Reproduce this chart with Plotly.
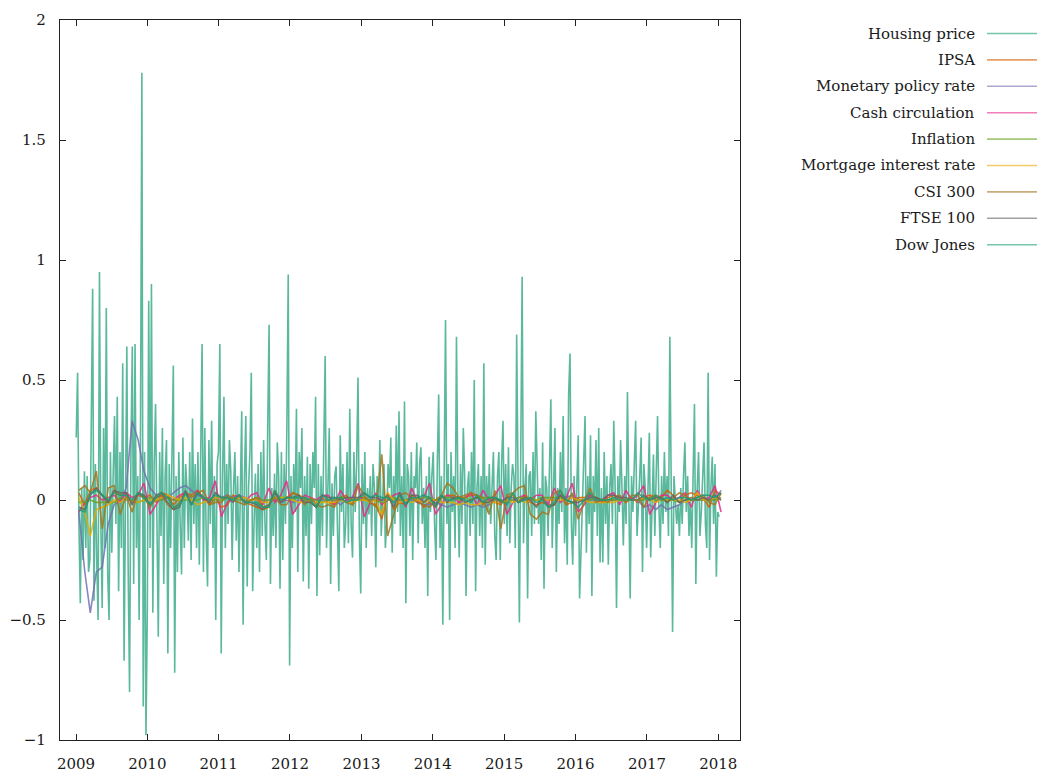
import pandas as pd
import plotly.graph_objects as go

# ---------------- data ----------------
series_names = ["Housing price", "IPSA", "Monetary policy rate", "Cash circulation",
                "Inflation", "Mortgage interest rate", "CSI 300", "FTSE 100", "Dow Jones"]

# weekly series with the large swings
housing_2009 = [0.26, 0.53, -0.10, -0.43, 0.05, -0.25, 0.12, -0.20, 0.10, -0.30, -0.25, 0.25, 0.88, -0.42, 0.15, -0.25, -0.50, 0.95, -0.10, -0.45, 0.30, -0.20, 0.80, -0.30, -0.50, 0.20, -0.22, 0.10, 0.35, -0.10, 0.43, -0.38, 0.20, -0.20, 0.57, -0.67, 0.20, 0.64, -0.30, -0.80, 0.20, 0.64, -0.35, 0.65, -0.20, 0.10, -0.50, 0.30, 1.78, -0.86, 0.20, -0.98]
housing_2010 = [-0.45, 0.83, -0.20, 0.90, -0.47, 0.15, 0.40, -0.25, -0.57, 0.20, -0.15, 0.30, -0.35, 0.10, 0.25, -0.64, 0.15, -0.20, 0.30, 0.56, -0.72, 0.10, -0.30, 0.20, -0.10, -0.31, 0.26, -0.20, 0.15, 0.05, -0.17, 0.20, -0.25, 0.34, -0.10, 0.15, -0.20, 0.20, -0.27, 0.10, 0.65, -0.30, 0.30, -0.15, -0.36, 0.25, -0.10, 0.33, -0.20, 0.10, -0.50, 0.15]
housing_2011 = [0.20, 0.65, -0.64, 0.10, 0.43, -0.20, 0.15, -0.10, 0.25, 0.12, -0.25, 0.05, 0.20, -0.17, 0.10, -0.30, 0.15, 0.37, -0.52, 0.10, 0.35, -0.36, 0.05, 0.20, 0.53, -0.38, -0.10, 0.11, -0.20, 0.15, -0.30, 0.20, -0.15, 0.25, -0.10, -0.25, 0.30, 0.73, -0.35, 0.05, -0.15, 0.11, -0.20, 0.24, 0.10, -0.37, 0.20, -0.25, 0.15, -0.10, 0.30, 0.94]
housing_2012 = [-0.69, 0.10, -0.20, 0.15, -0.05, 0.38, -0.30, 0.20, 0.05, 0.30, -0.34, 0.10, -0.15, 0.18, -0.37, 0.15, -0.10, 0.20, 0.05, 0.43, -0.40, 0.15, -0.23, 0.10, -0.15, 0.20, 0.60, -0.20, 0.05, 0.30, -0.35, 0.07, -0.15, 0.10, 0.14, -0.10, -0.38, 0.27, -0.05, 0.15, -0.20, -0.10, 0.20, -0.18, 0.38, -0.10, -0.24, 0.20, -0.05, 0.15, 0.51, -0.15]
housing_2013 = [-0.39, 0.15, -0.10, 0.20, -0.20, 0.05, -0.06, 0.10, -0.15, 0.15, 0.05, -0.28, 0.10, -0.05, 0.25, -0.15, 0.05, 0.15, -0.20, -0.10, 0.15, 0.05, 0.26, -0.22, 0.10, -0.10, 0.31, -0.05, 0.37, -0.15, 0.10, -0.20, 0.41, -0.43, 0.15, 0.10, -0.15, 0.20, -0.25, 0.10, 0.05, 0.24, -0.18, 0.15, 0.22, -0.10, 0.05, -0.20, 0.10, -0.40, 0.18, -0.05]
housing_2014 = [0.10, 0.20, -0.10, -0.25, 0.15, 0.44, -0.20, 0.10, -0.52, 0.20, 0.75, -0.10, 0.15, -0.50, 0.20, -0.05, 0.10, -0.20, 0.68, 0.05, -0.24, 0.15, -0.10, 0.30, 0.10, -0.40, 0.05, 0.12, -0.15, 0.20, -0.10, 0.50, -0.38, 0.05, 0.15, -0.15, 0.10, -0.20, 0.57, -0.27, 0.10, -0.05, 0.15, -0.10, 0.05, 0.20, -0.15, -0.25, 0.10, 0.20, -0.25, 0.15]
housing_2015 = [0.33, -0.10, 0.15, -0.15, 0.22, -0.18, 0.05, 0.15, 0.10, -0.20, 0.69, -0.10, -0.51, 0.20, 0.93, -0.18, 0.05, 0.15, -0.41, 0.10, 0.12, -0.15, 0.20, -0.10, 0.37, 0.14, -0.10, 0.05, -0.25, 0.24, -0.37, 0.10, 0.05, -0.15, 0.20, 0.42, -0.20, 0.10, 0.30, -0.30, 0.05, -0.10, 0.20, -0.05, 0.35, -0.18, 0.05, -0.27, 0.44, 0.61, -0.10, -0.27]
housing_2016 = [0.10, -0.15, 0.05, 0.27, -0.41, -0.20, -0.05, 0.15, 0.35, -0.22, 0.10, -0.10, 0.27, -0.40, 0.10, -0.05, 0.25, -0.15, 0.30, -0.26, 0.05, -0.26, 0.20, -0.10, 0.10, -0.27, 0.05, 0.15, -0.10, 0.33, 0.05, -0.45, 0.10, -0.05, 0.25, 0.05, -0.19, 0.10, -0.10, 0.45, 0.05, -0.41, 0.10, -0.05, 0.15, 0.33, -0.15, -0.05, 0.10, 0.26, -0.30, 0.15]
housing_2017 = [0.05, -0.20, 0.10, 0.28, -0.24, -0.05, 0.19, -0.15, 0.10, 0.35, -0.03, -0.20, 0.10, -0.10, 0.20, -0.05, 0.10, -0.15, 0.68, 0.05, -0.55, 0.10, -0.03, -0.10, -0.02, -0.15, 0.05, -0.10, 0.10, 0.24, -0.05, 0.10, -0.15, 0.00, -0.20, 0.10, 0.40, -0.35, 0.05, 0.20, -0.15, -0.05, 0.10, 0.24, -0.10, -0.20, 0.53, -0.25, 0.05, 0.18, -0.10, 0.15]
housing_2018 = [-0.32, -0.05, -0.07]

# monthly series that stay close to zero
ipsa = [0.03, -0.02, 0.04, 0.05, 0.02, -0.01, 0.04, 0.02, 0.03, -0.01, 0.02, 0.01,
        0.02, -0.01, 0.03, 0.02, -0.02, 0.01, 0.03, 0.02, 0.04, 0.01, -0.02, 0.01,
        -0.03, -0.02, 0.02, 0.01, -0.01, -0.02, -0.03, -0.04, -0.03, 0.04, -0.01, 0.01,
        0.03, 0.02, 0.01, -0.01, -0.03, 0.01, -0.01, -0.02, 0.01, 0.02, -0.02, 0.01,
        0.01, -0.01, -0.02, -0.08, 0.03, -0.04, -0.01, -0.02, 0.02, 0.01, -0.03, -0.01,
        -0.03, 0.01, 0.02, 0.02, 0.01, 0.01, 0.02, 0.02, -0.02, 0.01, -0.01, -0.02,
        0.01, 0.02, -0.01, 0.02, -0.01, -0.02, -0.01, -0.02, -0.02, 0.02, -0.02, -0.01,
        0.01, 0.01, 0.02, 0.01, -0.01, 0.01, 0.02, 0.01, -0.01, 0.01, -0.01, 0.01,
        0.02, 0.01, 0.01, 0.04, 0.02, -0.01, 0.02, 0.03, 0.02, 0.01, -0.03, 0.04,
        0.02]
policy_rate = [-0.05, -0.30, -0.47, -0.30, -0.28, -0.10, -0.02, 0.00, 0.05, 0.33, 0.25, 0.12,
               0.05, 0.02, 0.00, 0.01, 0.03, 0.05, 0.06, 0.04, 0.02, 0.01, 0.00, 0.01,
               0.01, 0.02, 0.01, 0.02, 0.01, 0.00, 0.00, -0.01, 0.00, 0.00, -0.01, 0.00,
               -0.01, 0.00, 0.00, 0.00, 0.00, 0.00, 0.00, 0.00, -0.02, 0.00, 0.00, 0.00,
               0.00, 0.00, 0.00, 0.00, 0.00, 0.00, 0.00, 0.00, 0.00, -0.01, -0.02, -0.02,
               -0.01, -0.02, -0.03, -0.02, -0.01, -0.02, -0.03, -0.02, -0.03, -0.02, 0.00, 0.00,
               0.00, 0.00, 0.00, 0.00, 0.00, 0.00, 0.00, 0.00, 0.00, 0.02, 0.01, 0.02,
               0.00, 0.00, 0.00, 0.00, 0.00, 0.00, 0.00, 0.00, 0.00, 0.00, 0.00, -0.03,
               -0.02, -0.04, -0.02, -0.04, -0.03, -0.02, 0.00, 0.00, 0.00, 0.00, 0.00, 0.00,
               0.04]
cash_circulation = [-0.05, -0.01, 0.01, 0.02, 0.00, 0.01, 0.02, -0.01, 0.03, 0.01, 0.02, 0.07,
                    -0.06, -0.02, 0.02, 0.01, 0.00, 0.02, 0.03, -0.02, 0.04, 0.00, 0.01, 0.08,
                    -0.07, -0.01, 0.01, 0.02, -0.01, 0.02, 0.03, -0.02, 0.05, -0.01, 0.02, 0.08,
                    -0.06, -0.02, 0.02, 0.01, 0.00, 0.02, 0.02, -0.02, 0.04, 0.00, 0.01, 0.07,
                    -0.07, -0.01, 0.03, -0.02, 0.00, 0.02, 0.03, -0.03, 0.05, -0.01, 0.01, 0.07,
                    -0.06, -0.02, 0.02, 0.01, -0.01, 0.01, 0.03, -0.02, 0.04, 0.00, 0.02, 0.06,
                    -0.06, -0.01, 0.01, 0.02, 0.00, 0.02, 0.02, -0.02, 0.05, -0.01, 0.01, 0.07,
                    -0.05, -0.02, 0.02, 0.01, -0.01, 0.02, 0.03, -0.02, 0.04, 0.00, 0.02, 0.06,
                    -0.06, -0.01, 0.02, 0.02, 0.00, 0.01, 0.03, -0.03, 0.04, 0.00, 0.01, 0.06,
                    -0.05]
inflation = [-0.01, -0.01, 0.00, -0.01, -0.01, -0.01, -0.01, 0.01, 0.00, 0.00, -0.01, 0.00,
             0.01, 0.00, 0.00, 0.01, 0.00, 0.00, 0.00, 0.00, 0.00, 0.01, 0.00, 0.00,
             0.00, 0.01, 0.01, 0.00, 0.00, 0.00, 0.01, 0.00, 0.00, 0.01, 0.01, 0.01,
             0.00, 0.01, 0.00, 0.00, 0.00, -0.01, 0.00, 0.00, 0.01, 0.01, 0.00, 0.00,
             0.00, 0.00, 0.00, -0.01, 0.00, 0.01, 0.00, 0.00, 0.01, 0.00, 0.01, 0.01,
             0.00, 0.01, 0.01, 0.01, 0.00, 0.01, 0.00, 0.01, 0.01, 0.01, 0.00, 0.00,
             -0.01, 0.00, 0.01, 0.01, 0.01, 0.00, 0.01, 0.01, 0.01, 0.01, 0.00, -0.01,
             0.00, 0.00, 0.00, 0.01, 0.00, 0.00, 0.00, 0.00, 0.00, 0.00, 0.00, 0.00,
             0.01, 0.00, 0.00, 0.00, 0.00, -0.01, 0.00, 0.00, 0.00, 0.00, 0.00, 0.00,
             0.01]
mortgage_rate = [0.01, -0.05, -0.15, -0.04, -0.03, -0.02, 0.00, -0.01, 0.01, 0.00, -0.01, 0.00,
                 0.00, 0.00, 0.01, 0.02, 0.01, 0.00, 0.01, 0.00, -0.02, -0.01, 0.00, 0.01,
                 0.01, 0.01, 0.00, 0.01, 0.01, 0.00, 0.00, -0.01, -0.01, 0.01, 0.01, 0.01,
                 0.00, -0.01, -0.01, 0.00, -0.01, -0.01, -0.01, -0.01, 0.00, -0.01, -0.01, 0.00,
                 0.00, -0.01, 0.00, -0.06, 0.03, 0.00, -0.01, 0.00, -0.01, 0.00, -0.01, 0.00,
                 0.00, -0.01, -0.01, -0.01, -0.02, -0.01, -0.02, -0.02, -0.01, -0.01, -0.01, -0.01,
                 0.00, -0.01, 0.00, -0.01, 0.00, 0.00, 0.00, 0.00, 0.00, 0.00, 0.00, 0.01,
                 0.00, 0.00, -0.01, -0.01, -0.01, -0.01, -0.01, 0.00, 0.00, 0.00, 0.00, 0.01,
                 0.00, -0.01, 0.00, 0.00, 0.00, 0.00, -0.01, 0.00, 0.03, 0.00, 0.00, 0.01,
                 0.00]
csi300 = [0.04, 0.06, 0.03, 0.12, -0.12, 0.05, 0.06, -0.06, 0.02, -0.05, 0.03, 0.01,
          -0.03, 0.01, 0.02, -0.02, -0.04, -0.01, 0.03, 0.01, 0.03, 0.04, -0.02, -0.01,
          -0.01, 0.02, 0.00, -0.01, -0.02, 0.00, 0.01, -0.03, -0.02, 0.01, -0.02, -0.02,
          0.03, 0.02, -0.02, 0.01, -0.02, -0.03, -0.02, -0.03, 0.01, -0.01, -0.02, 0.06,
          0.02, -0.01, -0.03, 0.19, -0.15, -0.06, 0.02, 0.03, 0.01, -0.01, -0.02, -0.03,
          0.00, 0.02, 0.07, 0.05, 0.01, 0.02, 0.03, 0.02, 0.01, -0.06, 0.04, -0.12,
          0.02, 0.03, 0.05, 0.06, -0.06, -0.08, -0.05, -0.06, 0.03, 0.04, -0.02, 0.03,
          -0.08, -0.01, 0.05, -0.01, 0.00, -0.01, 0.01, 0.02, -0.01, 0.02, 0.02, -0.03,
          0.01, 0.02, 0.01, -0.01, 0.01, 0.03, 0.02, 0.00, 0.01, 0.02, -0.01, -0.02,
          0.03]
ftse100 = [-0.03, -0.04, 0.02, 0.05, 0.02, -0.01, 0.04, 0.03, 0.03, -0.02, 0.03, 0.02,
           -0.02, 0.02, 0.03, -0.01, -0.04, -0.03, 0.04, -0.02, 0.03, 0.01, -0.01, 0.03,
           0.01, 0.01, -0.01, 0.02, -0.01, -0.01, -0.02, -0.04, -0.02, 0.03, -0.01, 0.01,
           0.01, 0.02, -0.01, -0.01, -0.03, 0.02, 0.01, 0.01, 0.00, 0.01, 0.01, 0.01,
           0.03, 0.01, 0.01, 0.00, 0.02, -0.03, 0.03, -0.02, 0.02, 0.02, -0.01, 0.01,
           -0.02, 0.02, -0.01, 0.01, 0.01, -0.01, 0.00, 0.01, -0.01, -0.01, 0.01, -0.01,
           0.01, 0.01, -0.01, 0.01, 0.00, -0.03, 0.01, -0.03, -0.02, 0.02, 0.00, -0.01,
           -0.01, 0.00, 0.01, 0.01, 0.00, 0.02, 0.02, 0.01, 0.01, 0.00, 0.00, 0.02,
           0.00, 0.01, 0.01, -0.01, 0.02, -0.01, 0.00, 0.01, 0.00, 0.01, 0.00, 0.02,
           0.00]
dow_jones = [-0.04, -0.05, 0.03, 0.04, 0.02, 0.00, 0.03, 0.02, 0.02, 0.00, 0.03, 0.01,
             -0.02, 0.01, 0.03, 0.01, -0.03, -0.02, 0.03, -0.02, 0.03, 0.01, 0.00, 0.02,
             0.01, 0.01, 0.00, 0.02, -0.01, -0.01, -0.01, -0.03, -0.03, 0.04, 0.00, 0.01,
             0.01, 0.01, 0.01, 0.00, -0.03, 0.02, 0.00, 0.01, 0.01, -0.01, 0.00, 0.00,
             0.03, 0.01, 0.02, 0.01, 0.01, -0.01, 0.02, -0.02, 0.01, 0.01, 0.02, 0.01,
             -0.03, 0.02, 0.00, 0.00, 0.01, 0.00, -0.01, 0.02, -0.01, 0.01, 0.01, 0.00,
             -0.02, 0.03, -0.01, 0.00, 0.01, -0.01, 0.00, -0.03, -0.01, 0.04, 0.00, -0.01,
             -0.03, 0.00, 0.03, 0.00, 0.00, 0.00, 0.01, 0.00, 0.00, 0.00, 0.03, 0.01,
             0.00, 0.02, 0.00, 0.01, 0.00, 0.01, 0.01, 0.00, 0.01, 0.02, 0.02, 0.01,
             0.03]

colors = ["#1b9e77", "#d95f02", "#7570b3", "#e7298a", "#66a61e",
          "#e6ab02", "#a6761d", "#666666", "#1b9e77"]

# ---------------- build figure ----------------
housing = (housing_2009 + housing_2010 + housing_2011 + housing_2012 + housing_2013 +
           housing_2014 + housing_2015 + housing_2016 + housing_2017 + housing_2018)
weekly_dates = pd.date_range("2009-01-02", periods=len(housing), freq="7D")
monthly_dates = pd.date_range("2009-01-01", periods=len(ipsa), freq="MS") + pd.Timedelta(days=14)

small_series = [ipsa, policy_rate, cash_circulation, inflation, mortgage_rate,
                csi300, ftse100, dow_jones]

fig = go.Figure()
fig.add_trace(go.Scatter(x=weekly_dates, y=housing, mode="lines", name=series_names[0],
                         line=dict(color=colors[0], width=1.6), opacity=0.72,
                         showlegend=False))
for name, vals, col in zip(series_names[1:], small_series, colors[1:]):
    fig.add_trace(go.Scatter(x=monthly_dates, y=vals, mode="lines", name=name,
                             line=dict(color=col, width=1.6), opacity=0.85,
                             showlegend=False))

FONT = "DejaVu Serif"
# The page body has an 8px margin, so the figure is 8px smaller and offset.
OFF = 8
W, H = 1052 - OFF, 776 - OFF
# plot area in page pixels
PL, PR, PT, PB = 60, 740, 20, 740
L, R, T, B = PL - OFF, PR - OFF, PT - OFF, PB - OFF

def px_x(p):  # page pixel -> paper fraction
    return (p - PL) / (PR - PL)

def px_y(p):
    return (PB - p) / (PB - PT)

# custom legend: right-aligned text, line sample to the right
row0, row_step = 33.5, 26.4
for i, (name, col) in enumerate(zip(series_names, colors)):
    yy = px_y(row0 + i * row_step)
    fig.add_annotation(x=px_x(977), y=yy, xref="paper", yref="paper", text=name,
                       showarrow=False, xanchor="right", yanchor="middle",
                       font=dict(family=FONT, size=15, color="#1a1a1a"))
    fig.add_shape(type="line", xref="paper", yref="paper",
                  x0=px_x(987), x1=px_x(1037), y0=yy, y1=yy,
                  line=dict(color=col, width=1.6), opacity=0.6)

axis_common = dict(showgrid=False, zeroline=False, showline=True, linecolor="#222",
                   linewidth=1.2, mirror="ticks", ticks="inside", ticklen=6,
                   tickcolor="#222", tickwidth=1.2, automargin=False,
                   tickfont=dict(family=FONT, size=15, color="#1a1a1a"))

fig.update_xaxes(type="date", range=["2008-10-11", "2018-04-22"],
                 tickmode="array",
                 tickvals=[f"{y}-01-01" for y in range(2009, 2019)],
                 ticktext=[str(y) for y in range(2009, 2019)],
                 ticklabelstandoff=10, **axis_common)
fig.update_yaxes(range=[-1, 2], tickvals=[-1, -0.5, 0, 0.5, 1, 1.5, 2],
                 ticklabelstandoff=10, **axis_common)

fig.update_layout(width=W, height=H, paper_bgcolor="white", plot_bgcolor="white",
                  margin=dict(l=L, r=W - R, t=T, b=H - B, autoexpand=False),
                  showlegend=False)

fig.write_html("out.html")
